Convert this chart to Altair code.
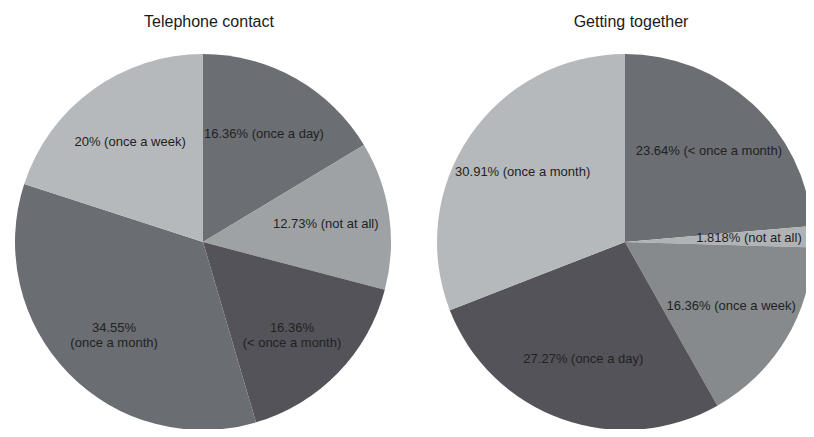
import math
import altair as alt
import pandas as pd

panels = ["Telephone contact", "Getting together"]

# Telephone contact (clockwise from 12 o'clock)
tel_categories = ["once a day", "not at all", "< once a month", "once a month", "once a week"]
tel_values = [16.36, 12.73, 16.36, 34.55, 20.0]
tel_labels = ["16.36% (once a day)", "12.73% (not at all)", "16.36%\n(< once a month)",
              "34.55%\n(once a month)", "20% (once a week)"]
tel_colors = ["#6b6e72", "#9fa2a5", "#55535a", "#6a6d71", "#b6b9bc"]

# Getting together (clockwise from 12 o'clock)
get_categories = ["< once a month", "not at all", "once a week", "once a day", "once a month"]
get_values = [23.64, 1.818, 16.36, 27.27, 30.91]
get_labels = ["23.64% (< once a month)", "1.818% (not at all)", "16.36% (once a week)",
              "27.27% (once a day)", "30.91% (once a month)"]
get_colors = ["#6b6e72", "#b0b3b6", "#868a8d", "#55535a", "#b6b9bc"]

rows = []
for panel, cats, vals, labs, cols in [
    (panels[0], tel_categories, tel_values, tel_labels, tel_colors),
    (panels[1], get_categories, get_values, get_labels, get_colors),
]:
    for i, (c, v, l, s) in enumerate(zip(cats, vals, labs, cols)):
        rows.append({"panel": panel, "order": i, "category": c, "value": v,
                     "label": l, "shade": s})
df = pd.DataFrame(rows)
titles_df = pd.DataFrame({"panel": panels})

xscale = alt.Scale(type="point", domain=panels, range=[195, 617], padding=0)
tscale = alt.Scale(domain=[0, 1], range=[0, 2 * math.pi])

base = alt.Chart(df).transform_window(
    cum="sum(value)", groupby=["panel"], sort=[alt.SortField("order")],
    frame=[None, 0]
).transform_joinaggregate(
    total="sum(value)", groupby=["panel"]
).transform_calculate(
    t0="(datum.cum - datum.value) / datum.total",
    t1="datum.cum / datum.total",
    tm="(datum.cum - datum.value / 2) / datum.total",
).encode(
    x=alt.X("panel:N", scale=xscale, axis=None),
    y=alt.value(234),
)

arcs = base.mark_arc(outerRadius=188).encode(
    theta=alt.Theta("t0:Q", scale=tscale),
    theta2="t1:Q",
    color=alt.Color("shade:N", scale=None, legend=None),
)

labels = base.mark_text(radius=124, fontSize=13, font="Liberation Sans",
                        color="#222222", lineBreak="\n", baseline="middle",
                        align="center").encode(
    theta=alt.Theta("tm:Q", scale=tscale),
    text="label:N",
)

titles = alt.Chart(titles_df).mark_text(
    fontSize=16, font="Liberation Sans", color="#1a1a1a",
    baseline="middle", align="center", dx=6
).encode(
    x=alt.X("panel:N", scale=xscale, axis=None),
    y=alt.value(14),
    text="panel:N",
)

chart = alt.layer(arcs, labels, titles).properties(
    width=798, height=421,
    autosize=alt.AutoSizeParams(type="none"),
    padding=0,
    background="white",
).configure_view(strokeWidth=0, stroke="transparent")

chart.save("out.html", embed_options={"renderer": "svg", "actions": False})
